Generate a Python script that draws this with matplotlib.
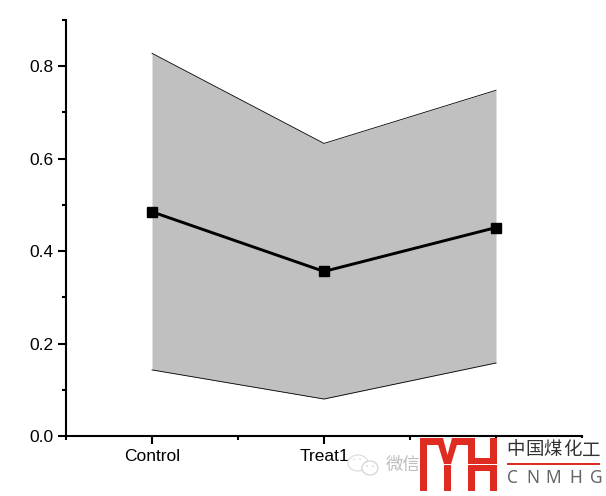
import matplotlib
matplotlib.use("Agg")
import matplotlib.pyplot as plt
from matplotlib.patches import Rectangle, Polygon, Ellipse

plt.rcParams['font.family'] = ['Liberation Sans', 'Noto Sans CJK SC', 'DejaVu Sans']

# Values
groups = [1, 2, 3]
group_labels = ["Control", "Treat1", ""]
mean_values = [0.485, 0.356, 0.451]
upper_values = [0.828, 0.633, 0.748]
lower_values = [0.143, 0.080, 0.158]

fig = plt.figure(figsize=(6.06, 4.96), dpi=100)
ax = fig.add_axes([66 / 606, 1 - 436 / 496, 516 / 606, 416 / 496])

# Shaded band and mean line
ax.fill_between(groups, lower_values, upper_values, color="#C0C0C0", linewidth=0)
ax.plot(groups, upper_values, color="black", linewidth=0.6)
ax.plot(groups, lower_values, color="black", linewidth=0.6)
ax.plot(groups, mean_values, color="black", linewidth=2.1, marker="s", markersize=6.6)

ax.set_xlim(0.5, 3.5)
ax.set_ylim(0, 0.9)
ax.set_xticks(groups)
ax.set_xticklabels(group_labels)
ax.set_xticks([0.5, 1.5, 2.5, 3.5], minor=True)
ax.set_yticks([0.0, 0.2, 0.4, 0.6, 0.8])
ax.set_yticklabels(["0.0", "0.2", "0.4", "0.6", "0.8"])
ax.set_yticks([0.1, 0.3, 0.5, 0.7, 0.9], minor=True)

ax.spines["top"].set_visible(False)
ax.spines["right"].set_visible(False)
ax.spines["left"].set_linewidth(1.5)
ax.spines["bottom"].set_linewidth(1.5)
ax.tick_params(axis="both", which="major", length=5.5, width=1.5, labelsize=12.5)
ax.tick_params(axis="x", which="major", pad=4)
ax.tick_params(axis="y", which="major", pad=3.5)
ax.tick_params(axis="both", which="minor", length=3, width=1.5)

# Watermark and logo, drawn in pixel coordinates on top of the chart
over = fig.add_axes([0, 0, 1, 1], zorder=10)
over.set_xlim(0, 606)
over.set_ylim(496, 0)
over.axis("off")

red = "#E02B20"
over.add_patch(Rectangle((420, 438), 186, 58, facecolor="white", edgecolor="none"))
over.add_patch(Rectangle((420, 438), 7, 53, facecolor=red, edgecolor="none"))
over.add_patch(Rectangle((420, 438), 20, 7, facecolor=red, edgecolor="none"))
over.add_patch(Polygon([(436, 438), (444, 464), (451, 464), (459, 438), (452, 438),
                        (447.5, 455), (443, 438)], facecolor=red, edgecolor="none"))
over.add_patch(Rectangle((455, 438), 20, 7, facecolor=red, edgecolor="none"))
over.add_patch(Rectangle((444, 460), 7, 31, facecolor=red, edgecolor="none"))
over.add_patch(Rectangle((468, 438), 7, 53, facecolor=red, edgecolor="none"))
over.add_patch(Rectangle((490, 438), 7, 53, facecolor=red, edgecolor="none"))
over.add_patch(Rectangle((468, 458), 29, 13, facecolor=red, edgecolor="none"))
over.add_patch(Rectangle((420, 463.5), 77, 1.2, facecolor="white", edgecolor="none"))
over.add_patch(Rectangle((507, 463), 93, 1.6, facecolor=red, edgecolor="none"))

for x, ch in zip([516, 535, 553, 572, 591], "中国煤化工"):
    over.text(x, 450.5, ch, fontsize=13.3, color="#333333", ha="center", va="center",
              family=["Noto Sans CJK SC"])
for x, ch in zip([512, 533, 553.5, 576, 596], "CNMHG"):
    over.text(x, 478, ch, fontsize=12.5, color="#666666", ha="center", va="center",
              family=["Noto Sans"])

# WeChat icon and label
over.add_patch(Ellipse((358, 463), 20, 16, facecolor="white", edgecolor="#DADADA", linewidth=0.8))
over.add_patch(Ellipse((370, 468), 16, 14, facecolor="white", edgecolor="#CFCFCF", linewidth=0.8))
for ex, ey in [(354, 459), (360, 459), (367, 466), (373, 466)]:
    over.add_patch(Ellipse((ex, ey), 1.6, 1.6, facecolor="#CFCFCF", edgecolor="none"))
over.text(403, 465, "微信", fontsize=12.5, color="#BDBDBD", ha="center", va="center",
          family=["Noto Sans CJK SC"], zorder=1)
over.add_patch(Rectangle((420, 438), 7, 53, facecolor=red, edgecolor="none", zorder=2))

plt.savefig("out.png", dpi=100)
